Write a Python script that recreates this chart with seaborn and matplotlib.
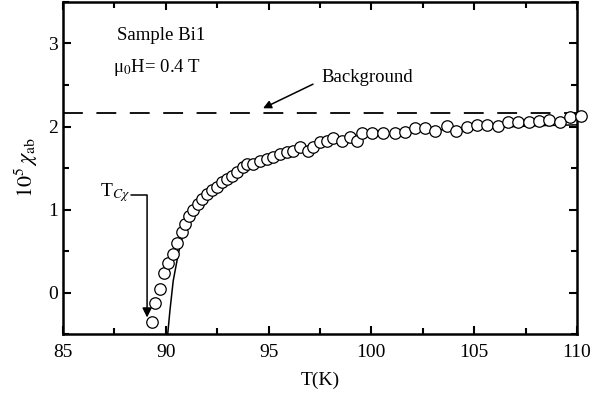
import numpy as np
import pandas as pd
import matplotlib
matplotlib.use("Agg")
import matplotlib.pyplot as plt
import seaborn as sns
from matplotlib.ticker import MultipleLocator

# Dados (Sample Bi1, mu0H = 0.4 T)
temp_data = [89.33, 89.47, 89.72, 89.91, 90.11, 90.35, 90.54, 90.79, 90.93, 91.13,
             91.32, 91.57, 91.76, 92.00, 92.25, 92.49, 92.73, 92.98, 93.22, 93.46,
             93.75, 93.95, 94.24, 94.58, 94.92, 95.21, 95.55, 95.89, 96.19, 96.53,
             96.92, 97.16, 97.50, 97.84, 98.13, 98.57, 98.96, 99.30, 99.54, 100.03,
             100.56, 101.15, 101.63, 102.12, 102.61, 103.09, 103.68, 104.11, 104.65, 105.14,
             105.62, 106.16, 106.64, 107.13, 107.67, 108.15, 108.64, 109.17, 109.66, 110.19]
chi_data = [-0.35, -0.12, 0.04, 0.23, 0.36, 0.46, 0.60, 0.73, 0.83, 0.92,
            0.99, 1.07, 1.13, 1.19, 1.23, 1.27, 1.33, 1.37, 1.41, 1.45,
            1.51, 1.55, 1.55, 1.59, 1.61, 1.63, 1.67, 1.69, 1.71, 1.75,
            1.71, 1.75, 1.81, 1.83, 1.86, 1.83, 1.87, 1.83, 1.92, 1.92,
            1.92, 1.92, 1.93, 1.98, 1.98, 1.95, 2.01, 1.95, 1.99, 2.02,
            2.02, 2.01, 2.05, 2.05, 2.06, 2.07, 2.08, 2.06, 2.11, 2.13]

# Curva ajustada (linha sólida)
temp_fit = [90.09, 90.20, 90.36, 90.61, 90.85, 91.09, 91.42, 91.75, 92.23, 92.72,
            93.5, 94.5, 95.5, 96.5, 97.5, 98.5, 100.0, 102.0, 104.0, 106.0, 108.0, 110.0]
chi_fit = [-0.51, -0.22, 0.14, 0.47, 0.71, 0.87, 1.01, 1.11, 1.23, 1.33,
           1.43, 1.56, 1.65, 1.72, 1.78, 1.83, 1.89, 1.94, 1.97, 1.99, 2.01, 2.02]

background = 2.16

df = pd.DataFrame({"T": temp_data, "chi": chi_data})
df_fit = pd.DataFrame({"T": temp_fit, "chi": chi_fit})

sns.set_style("ticks")
plt.rcParams["font.family"] = ["Liberation Serif", "DejaVu Serif"]
plt.rcParams["mathtext.fontset"] = "stix"
plt.rcParams["text.color"] = "black"
plt.rcParams["axes.labelcolor"] = "black"

fig = plt.figure(figsize=(5.97, 3.94), dpi=100)
ax = fig.add_axes([0.1055, 0.152, 0.861, 0.843])

ax.axhline(background, color="black", lw=1.3, ls=(0, (11, 7.5)), zorder=1)
sns.lineplot(data=df_fit, x="T", y="chi", color="black", lw=1.1, ax=ax, zorder=2)
sns.scatterplot(data=df, x="T", y="chi", marker="o", s=68, facecolor="white",
                edgecolor="black", linewidth=0.9, ax=ax, zorder=3, clip_on=False)

ax.set_xlim(85, 110)
ax.set_ylim(-0.5, 3.5)
ax.xaxis.set_major_locator(MultipleLocator(5))
ax.xaxis.set_minor_locator(MultipleLocator(2.5))
ax.yaxis.set_major_locator(MultipleLocator(1))
ax.yaxis.set_minor_locator(MultipleLocator(0.5))
ax.tick_params(which="both", direction="in", top=True, right=True, width=1.5,
               labelsize=14, colors="black")
ax.tick_params(axis="x", pad=7)
ax.tick_params(which="major", length=6)
ax.tick_params(which="minor", length=4)
for sp in ax.spines.values():
    sp.set_linewidth(1.8)
    sp.set_color("black")

ax.set_xlabel("T(K)", fontsize=14, labelpad=8)
ax.set_ylabel(r"$10^5\,\chi_{\rm ab}$", fontsize=16, labelpad=6)

ax.text(87.65, 3.10, "Sample Bi1", fontsize=13.5, va="center")
ax.text(87.45, 2.71, "μ$_0$H= 0.4 T", fontsize=13.5, va="center")
ax.text(97.55, 2.59, "Background", fontsize=13.5, va="center")
ax.annotate("", xy=(94.73, 2.22), xytext=(97.16, 2.51),
            arrowprops=dict(arrowstyle="-|>", color="black", lw=1.1,
                            mutation_scale=12, shrinkA=0, shrinkB=0))

ax.text(86.8, 1.2, r"T$_{C\chi}$", fontsize=14, va="center")
ax.plot([88.3, 89.09], [1.17, 1.17], color="black", lw=1.1)
ax.annotate("", xy=(89.09, -0.30), xytext=(89.09, 1.17),
            arrowprops=dict(arrowstyle="-|>", color="black", lw=1.1,
                            mutation_scale=14, shrinkA=0, shrinkB=0))

fig.savefig("out.png", dpi=100)
